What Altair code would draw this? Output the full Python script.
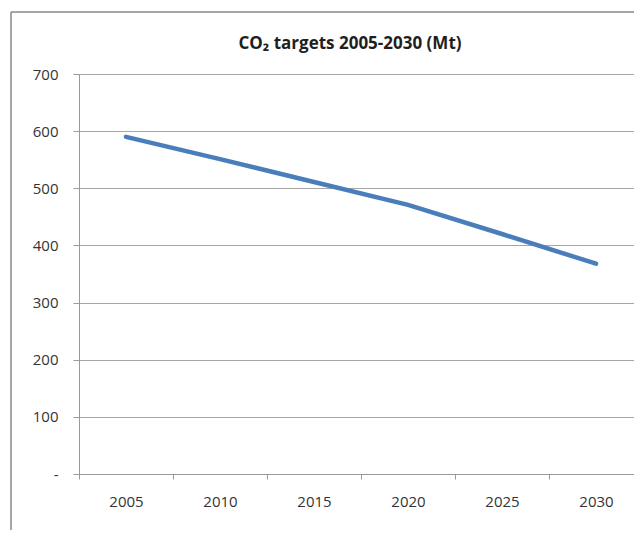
import altair as alt
import pandas as pd

years = ["2005", "2010", "2015", "2020", "2025", "2030"]
co2 = [590, 551, 511, 471, 420, 368]
y_ticks = [0, 100, 200, 300, 400, 500, 600, 700]
title_text = "CO\u2082 targets 2005-2030 (Mt)"

df = pd.DataFrame({"year": years, "co2": co2})
frame_df = pd.DataFrame({"k": [0]})

W, H = 555, 400
FONT = "Open Sans"
GRAY = "#999999"

x_enc = alt.X(
    "year:N", sort=years, title=None,
    scale=alt.Scale(type="band", paddingInner=0, paddingOuter=0, range=[0, 564]),
    axis=alt.Axis(labelAngle=0, tickBand="extent", grid=False, tickSize=5,
                  labelPadding=15, domainColor=GRAY, tickColor=GRAY),
)
y_enc = alt.Y(
    "co2:Q", title=None,
    scale=alt.Scale(domain=[0, 700], nice=False, zero=True),
    axis=alt.Axis(values=y_ticks, tickSize=6, labelPadding=15, grid=True,
                  gridColor="#A6A6A6", domainColor=GRAY, tickColor=GRAY,
                  labelExpr="datum.value == 0 ? '-\u00a0\u00a0' : datum.label"),
)

line = alt.Chart(df).mark_line(
    color="#4A7EBB", strokeWidth=4.5, strokeCap="round", strokeJoin="round"
).encode(x=x_enc, y=y_enc)

frame_left = alt.Chart(frame_df).mark_rule(color="#888888", strokeWidth=1.5).encode(
    x=alt.value(-68), y=alt.value(-62), y2=alt.value(700)
)
frame_top = alt.Chart(frame_df).mark_rule(color="#888888", strokeWidth=1.5).encode(
    x=alt.value(-68), x2=alt.value(900), y=alt.value(-62)
)
title = alt.Chart(frame_df).mark_text(
    font=FONT, fontSize=17, fontWeight="bold", color="#1f1f1f",
    align="center", baseline="alphabetic"
).encode(x=alt.value(271), y=alt.value(-24.6), text=alt.value(title_text))

chart = alt.layer(frame_left, frame_top, title, line).properties(
    width=W, height=H,
    padding={"left": 71, "top": 66, "right": 0, "bottom": 56},
    autosize=alt.AutoSizeParams(type="none"),
).configure_view(stroke=None).configure_axis(
    labelFont=FONT, labelFontSize=15, labelColor="#333333", domainWidth=1, tickWidth=1
)

chart.save("out.html", embed_options={"renderer": "svg", "actions": False})
